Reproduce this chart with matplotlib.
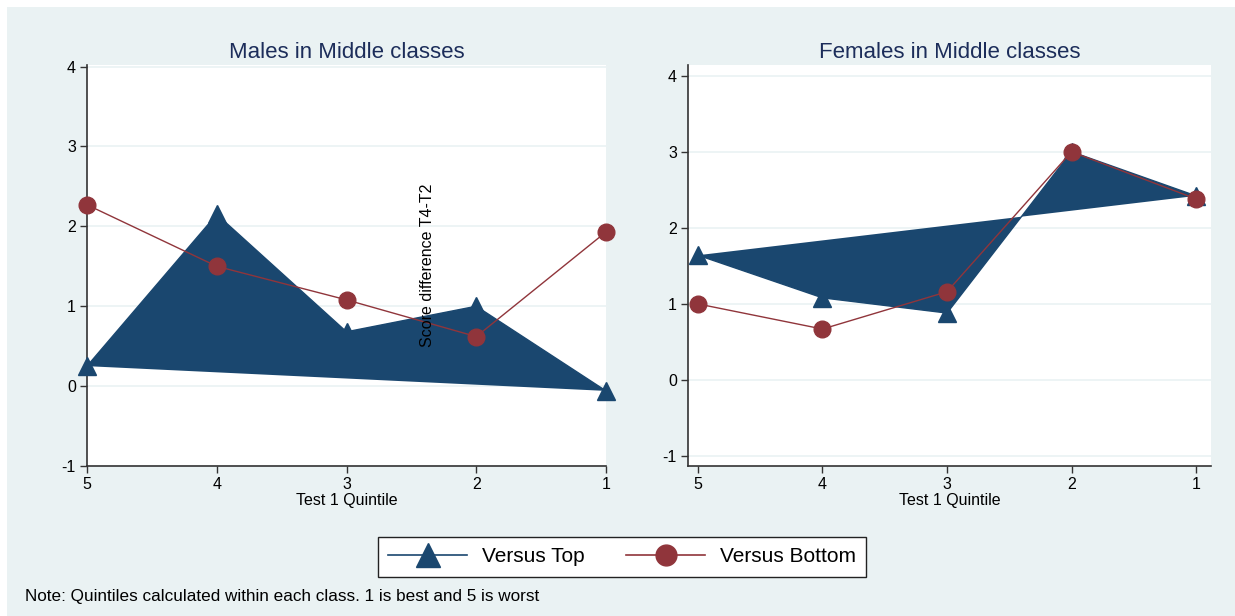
import matplotlib.pyplot as plt
from matplotlib.patches import Rectangle
from matplotlib.lines import Line2D

plt.rcParams['font.family'] = ['Liberation Sans', 'DejaVu Sans']

quintiles = [5, 4, 3, 2, 1]
tick_labels = ['5', '4', '3', '2', '1']

male_top = [0.25, 2.15, 0.68, 1.0, -0.06]
male_bottom = [2.27, 1.5, 1.08, 0.62, 1.93]
female_top = [1.64, 1.08, 0.88, 3.0, 2.42]
female_bottom = [1.0, 0.67, 1.16, 3.0, 2.38]

titles = ['Males in Middle classes', 'Females in Middle classes']

blue = '#1a476f'
red = '#90353b'
bg = '#eaf2f3'
W, H = 1235, 616

fig = plt.figure(figsize=(W / 100, H / 100), dpi=100)
fig.patch.set_facecolor('white')
fig.patches.append(Rectangle((7 / W, 0), 1 - 7 / W, 1 - 7 / H, transform=fig.transFigure,
                             facecolor=bg, edgecolor='none', zorder=-10))

def px_axes(x0, y0, x1, y1):
    # pixel box (top-left origin) -> figure axes
    return fig.add_axes([x0 / W, 1 - y1 / H, (x1 - x0) / W, (y1 - y0) / H])

panels = [
    (px_axes(87, 65, 606, 466), male_top, male_bottom, (5, 1), (-1, 4.02)),
    (px_axes(688, 65, 1211, 466), female_top, female_bottom, (5.08, 0.88), (-1.13, 4.14)),
]

for (ax, top, bottom, xl, yl), title in zip(panels, titles):
    ax.set_facecolor('white')
    ax.fill(quintiles, top, color=blue, zorder=2, linewidth=0)
    ax.plot(quintiles, top, color=blue, marker='^', markersize=13, linewidth=1, zorder=3, clip_on=False)
    ax.plot(quintiles, bottom, color=red, marker='o', markersize=12, linewidth=1, zorder=4, clip_on=False)
    ax.set_xlim(*xl)
    ax.set_ylim(*yl)
    ax.set_xticks(quintiles)
    ax.set_xticklabels(tick_labels)
    ax.set_yticks([-1, 0, 1, 2, 3, 4])
    ax.set_yticklabels(['-1', '0', '1', '2', '3', '4'])
    ax.grid(axis='y', color=bg, linewidth=1.2, zorder=1)
    ax.set_axisbelow(True)
    for s in ['top', 'right']:
        ax.spines[s].set_visible(False)
    for s in ['left', 'bottom']:
        ax.spines[s].set_color('#333333')
        ax.spines[s].set_linewidth(1.2)
    ax.tick_params(labelsize=11.5, length=5, width=1, color='#333333', pad=3)
    ax.set_title(title, fontsize=16, color='#1c2d5a', pad=5)
    ax.set_xlabel('Test 1 Quintile', fontsize=11.5, labelpad=1)

fig.text(428 / W, 1 - 265 / H, 'Score difference T4-T2', rotation=90, fontsize=11.5,
         ha='center', va='center')

handles = [
    Line2D([], [], color=blue, marker='^', markersize=17, linewidth=1.2),
    Line2D([], [], color=red, marker='o', markersize=15, linewidth=1.2),
]
leg = fig.legend(handles, ['Versus Top', 'Versus Bottom'], loc='center',
                 bbox_to_anchor=(622 / W, 1 - 557 / H), ncol=2, fontsize=15,
                 frameon=True, fancybox=False, edgecolor='#222222', handlelength=3.8,
                 handletextpad=0.7, columnspacing=2.0, borderpad=0.5, framealpha=1)
leg.get_frame().set_linewidth(1)
leg.get_frame().set_facecolor('white')

fig.text(25 / W, 1 - 596 / H, 'Note: Quintiles calculated within each class. 1 is best and 5 is worst',
         fontsize=12.3, va='center', ha='left')

fig.savefig('out.png', dpi=100, facecolor=fig.get_facecolor())
